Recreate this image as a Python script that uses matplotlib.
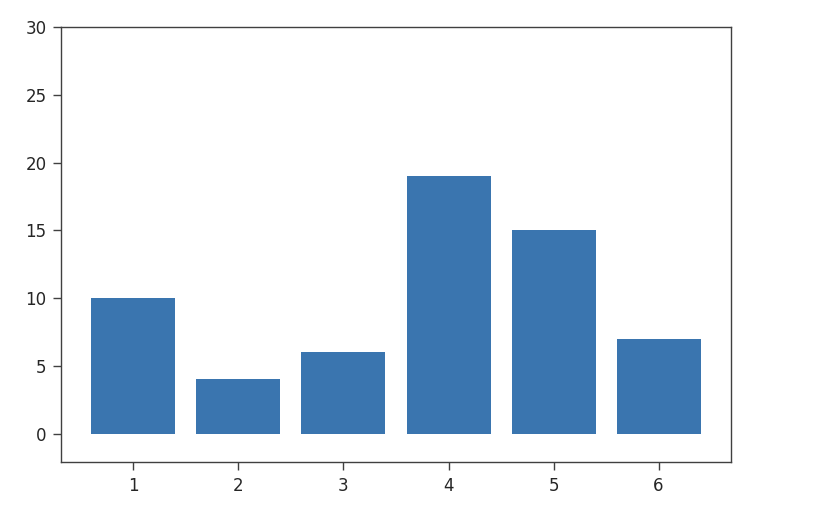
import numpy as np
import matplotlib.pyplot as plt

categories = [1, 2, 3, 4, 5, 6]
values = [10, 4, 6, 19, 15, 7]

fig = plt.figure(figsize=(8.18, 5.12), dpi=100)
ax = fig.add_axes([61 / 818, 1 - 462 / 512, (731 - 61) / 818, (462 - 27) / 512])

ax.bar(categories, values, width=0.8, color='#3a75af')
ax.set_ylim(-2.1, 30)
ax.set_yticks(np.arange(0, 31, 5))
ax.set_xticks(categories)

for s in ax.spines.values():
    s.set_color('#404040')
    s.set_linewidth(1.0)
ax.tick_params(colors='#404040', labelcolor='#262626', labelsize=12,
               length=5.5, width=1.0, pad=5)

fig.savefig('out.png', dpi=100)
